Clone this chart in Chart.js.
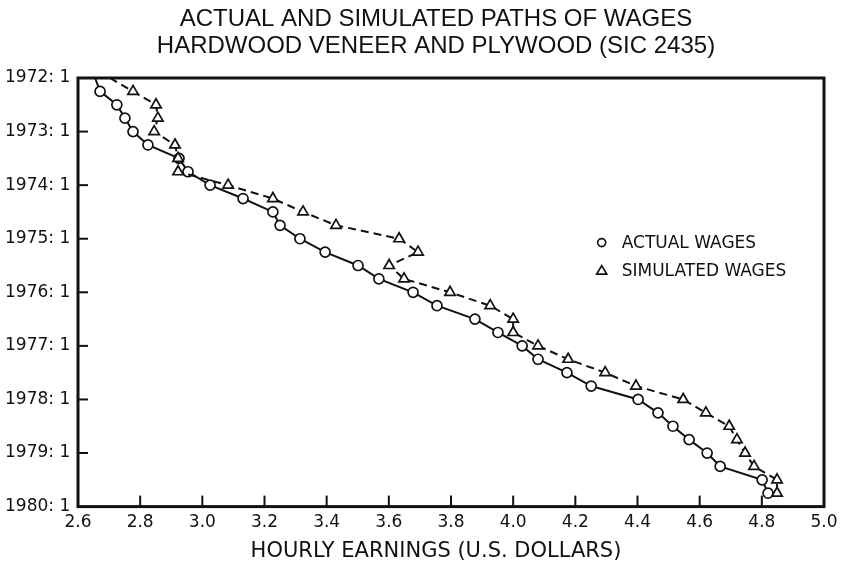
<!DOCTYPE html>
<html><head><meta charset="utf-8">
<script src="https://cdn.jsdelivr.net/npm/chart.js@4/dist/chart.umd.min.js"></script>
<style>html,body{margin:0;padding:0;background:#fff}#wrap{width:857px;height:566px}</style>
</head><body><div id="wrap"><canvas id="c" width="857" height="566"></canvas></div>
<script>
// Quarterly periods (1972:1 .. 1979:4)
const quarters = [
  "1972:1","1972:2","1972:3","1972:4",
  "1973:1","1973:2","1973:3","1973:4",
  "1974:1","1974:2","1974:3","1974:4",
  "1975:1","1975:2","1975:3","1975:4",
  "1976:1","1976:2","1976:3","1976:4",
  "1977:1","1977:2","1977:3","1977:4",
  "1978:1","1978:2","1978:3","1978:4",
  "1979:1","1979:2","1979:3","1979:4"
];
// Hourly earnings, U.S. dollars
const actualWages = [
  2.655, 2.671, 2.725, 2.751,
  2.777, 2.825, 2.925, 2.954,
  3.025, 3.131, 3.227, 3.250,
  3.314, 3.395, 3.501, 3.568,
  3.678, 3.755, 3.877, 3.951,
  4.029, 4.080, 4.173, 4.251,
  4.402, 4.466, 4.514, 4.566,
  4.624, 4.666, 4.801, 4.820
];
const simulatedWages = [
  2.703, 2.777, 2.851, 2.857,
  2.845, 2.912, 2.922, 2.922,
  3.083, 3.227, 3.324, 3.430,
  3.633, 3.694, 3.601, 3.649,
  3.797, 3.926, 4.000, 4.000,
  4.080, 4.177, 4.296, 4.395,
  4.547, 4.620, 4.695, 4.720,
  4.746, 4.775, 4.849, 4.849
];
const yearTicks = [1972, 1973, 1974, 1975, 1976, 1977, 1978, 1979, 1980];
const earningsTicks = [2.6, 2.8, 3.0, 3.2, 3.4, 3.6, 3.8, 4.0, 4.2, 4.4, 4.6, 4.8, 5.0];
const titleLines = ["ACTUAL AND SIMULATED PATHS OF WAGES", "HARDWOOD VENEER AND PLYWOOD (SIC 2435)"];
const xAxisTitle = "HOURLY EARNINGS (U.S. DOLLARS)";
const legendLabels = ["ACTUAL WAGES", "SIMULATED WAGES"];

function periodToNumber(p) {
  const parts = p.split(":");
  return Number(parts[0]) + (Number(parts[1]) - 1) / 4;
}
function toPoints(values) {
  return values.map((v, i) => ({ x: v, y: periodToNumber(quarters[i]) }));
}
const radii = (r) => quarters.map((q, i) => (i === 0 ? 0 : r));

const INK = "#111";
const labelFont = '"DejaVu Sans", sans-serif';
const PAD_LEFT = 48;
const PLOT_LEFT = 78;
const LABEL_LEFT = 5;

const framePlugin = {
  id: "frame",
  beforeDatasetsDraw(chart) {
    const { ctx, chartArea: a, scales } = chart;
    ctx.save();
    ctx.strokeStyle = INK;
    ctx.lineWidth = 3;
    ctx.strokeRect(a.left, a.top, a.right - a.left, a.bottom - a.top);
    ctx.lineWidth = 2;
    // inward ticks on x axis
    earningsTicks.forEach((t) => {
      if (t === earningsTicks[0] || t === earningsTicks[earningsTicks.length - 1]) return;
      const px = scales.x.getPixelForValue(t);
      ctx.beginPath(); ctx.moveTo(px, a.bottom); ctx.lineTo(px, a.bottom - 11); ctx.stroke();
    });
    // inward ticks on y axis
    yearTicks.forEach((t) => {
      if (t === yearTicks[0] || t === yearTicks[yearTicks.length - 1]) return;
      const py = scales.y.getPixelForValue(t);
      ctx.beginPath(); ctx.moveTo(a.left, py); ctx.lineTo(a.left + 10, py); ctx.stroke();
    });
    ctx.restore();
  },
  afterDraw(chart) {
    const { ctx, chartArea: a } = chart;
    ctx.save();
    const lx = a.left + (a.right - a.left) * 0.702;
    const ly = a.top + (a.bottom - a.top) * 0.384;
    ctx.fillStyle = INK; ctx.strokeStyle = INK; ctx.lineWidth = 1.7;
    ctx.font = '17px ' + labelFont;
    ctx.textBaseline = "middle";
    // circle
    ctx.beginPath(); ctx.arc(lx, ly, 4, 0, Math.PI * 2); ctx.stroke();
    ctx.fillText(legendLabels[0], lx + 20, ly + 1);
    // triangle
    const ty = ly + 28;
    ctx.beginPath(); ctx.moveTo(lx, ty - 5); ctx.lineTo(lx + 5, ty + 3.5); ctx.lineTo(lx - 5, ty + 3.5); ctx.closePath(); ctx.stroke();
    ctx.fillText(legendLabels[1], lx + 20, ty + 1);
    ctx.restore();
  }
};

new Chart(document.getElementById("c"), {
  type: "scatter",
  data: {
    datasets: [
      {
        label: legendLabels[0],
        data: toPoints(actualWages),
        showLine: true,
        borderColor: INK,
        borderWidth: 2,
        pointStyle: "circle",
        pointRadius: radii(5),
        pointBackgroundColor: "#fff",
        pointBorderColor: INK,
        pointBorderWidth: 1.7,
        tension: 0,
        order: 2
      },
      {
        label: legendLabels[1],
        data: toPoints(simulatedWages),
        showLine: true,
        borderColor: INK,
        borderWidth: 2,
        borderDash: [8, 5],
        pointStyle: "triangle",
        pointRadius: radii(6),
        pointBackgroundColor: "#fff",
        pointBorderColor: INK,
        pointBorderWidth: 1.7,
        tension: 0,
        order: 1
      }
    ]
  },
  options: {
    responsive: false,
    animation: false,
    events: [],
    layout: { padding: { left: PAD_LEFT, right: 33, top: 0, bottom: 0 } },
    plugins: {
      legend: { display: false },
      tooltip: { enabled: false },
      title: {
        display: true,
        text: titleLines,
        color: INK,
        font: { family: '"Liberation Sans Narrow", "Liberation Sans", sans-serif', size: 24, weight: "normal", lineHeight: 1.125 },
        padding: { top: 6, bottom: 18 }
      },
      subtitle: {
        display: true,
        position: "bottom",
        text: xAxisTitle,
        color: INK,
        font: { family: labelFont, size: 21, lineHeight: 1.0 },
        padding: { top: 2, bottom: 4 }
      }
    },
    scales: {
      x: {
        type: "linear",
        min: earningsTicks[0],
        max: earningsTicks[earningsTicks.length - 1],
        afterBuildTicks: (s) => { s.ticks = earningsTicks.map((v) => ({ value: v })); },
        grid: { display: false, drawTicks: false },
        border: { display: false },
        ticks: {
          color: INK,
          padding: 6,
          font: { family: labelFont, size: 17 },
          callback: (v) => Number(v).toFixed(1)
        }
      },
      y: {
        type: "linear",
        reverse: true,
        min: yearTicks[0],
        max: yearTicks[yearTicks.length - 1],
        afterBuildTicks: (s) => { s.ticks = yearTicks.map((v) => ({ value: v })); },
        afterFit: (s) => { s.width = PLOT_LEFT - PAD_LEFT; },
        grid: { display: false, drawTicks: false },
        border: { display: false },
        ticks: {
          color: INK,
          mirror: true,
          crossAlign: "near",
          padding: LABEL_LEFT - PLOT_LEFT,
          font: { family: labelFont, size: 17 },
          callback: (v) => v + ": 1"
        }
      }
    }
  },
  plugins: [framePlugin]
});
</script>
</body></html>
